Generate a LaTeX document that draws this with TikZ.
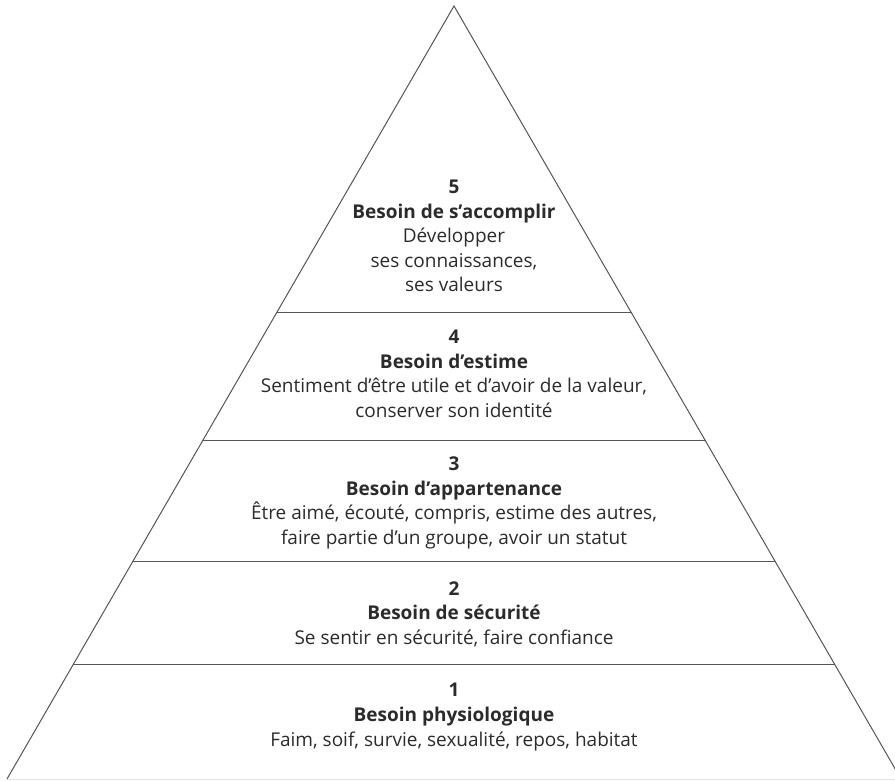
\documentclass[tikz,border=0pt]{standalone}
\usepackage{fontspec}
\setmainfont{Open Sans}
\definecolor{linec}{HTML}{555555}
\definecolor{basec}{HTML}{E6E6E6}
\definecolor{txt}{HTML}{2B2B2B}
\tikzset{
  level/.style={align=center, text=txt, font=\fontsize{19}{24.6}\selectfont, inner sep=0pt},
  edge/.style={draw=linec, line width=1pt}
}
\begin{document}
\begin{tikzpicture}[x=1pt,y=-1pt]
\useasboundingbox (0,0) rectangle (895,780);
\begin{scope}
\clip (0,0) rectangle (895,780);
\coordinate (apex) at (454,6);
\coordinate (bl) at (7,779);
\coordinate (br) at (901,779);
\draw[basec, line width=1pt] (bl) -- (br);
\draw[edge, line join=miter] (bl) -- (apex) -- (br);
\foreach \yy/\nm in {313/a,441/b,561/c,665/d}{
  \path (apex) -- (bl) coordinate[pos={(\yy-6)/773}] (L\nm);
  \path (apex) -- (br) coordinate[pos={(\yy-6)/773}] (R\nm);
  \draw[edge] (L\nm) -- (R\nm);
}
\end{scope}
\node[level] (n5) at (454,236) {\textbf{5}\\\textbf{Besoin de s’accomplir}\\Développer\\ses connaissances,\\ses valeurs};
\node[level] (n4) at (454,374) {\textbf{4}\\\textbf{Besoin d’estime}\\Sentiment d’être utile et d’avoir de la valeur,\\conserver son identité};
\node[level] (n3) at (454,503) {\textbf{3}\\\textbf{Besoin d’appartenance}\\Être aimé, écouté, compris, estime des autres,\\faire partie d’un groupe, avoir un statut};
\node[level] (n2) at (454,614) {\textbf{2}\\\textbf{Besoin de sécurité}\\Se sentir en sécurité, faire confiance};
\node[level] (n1) at (454,717) {\textbf{1}\\\textbf{Besoin physiologique}\\Faim, soif, survie, sexualité, repos, habitat};
\end{tikzpicture}
\end{document}
